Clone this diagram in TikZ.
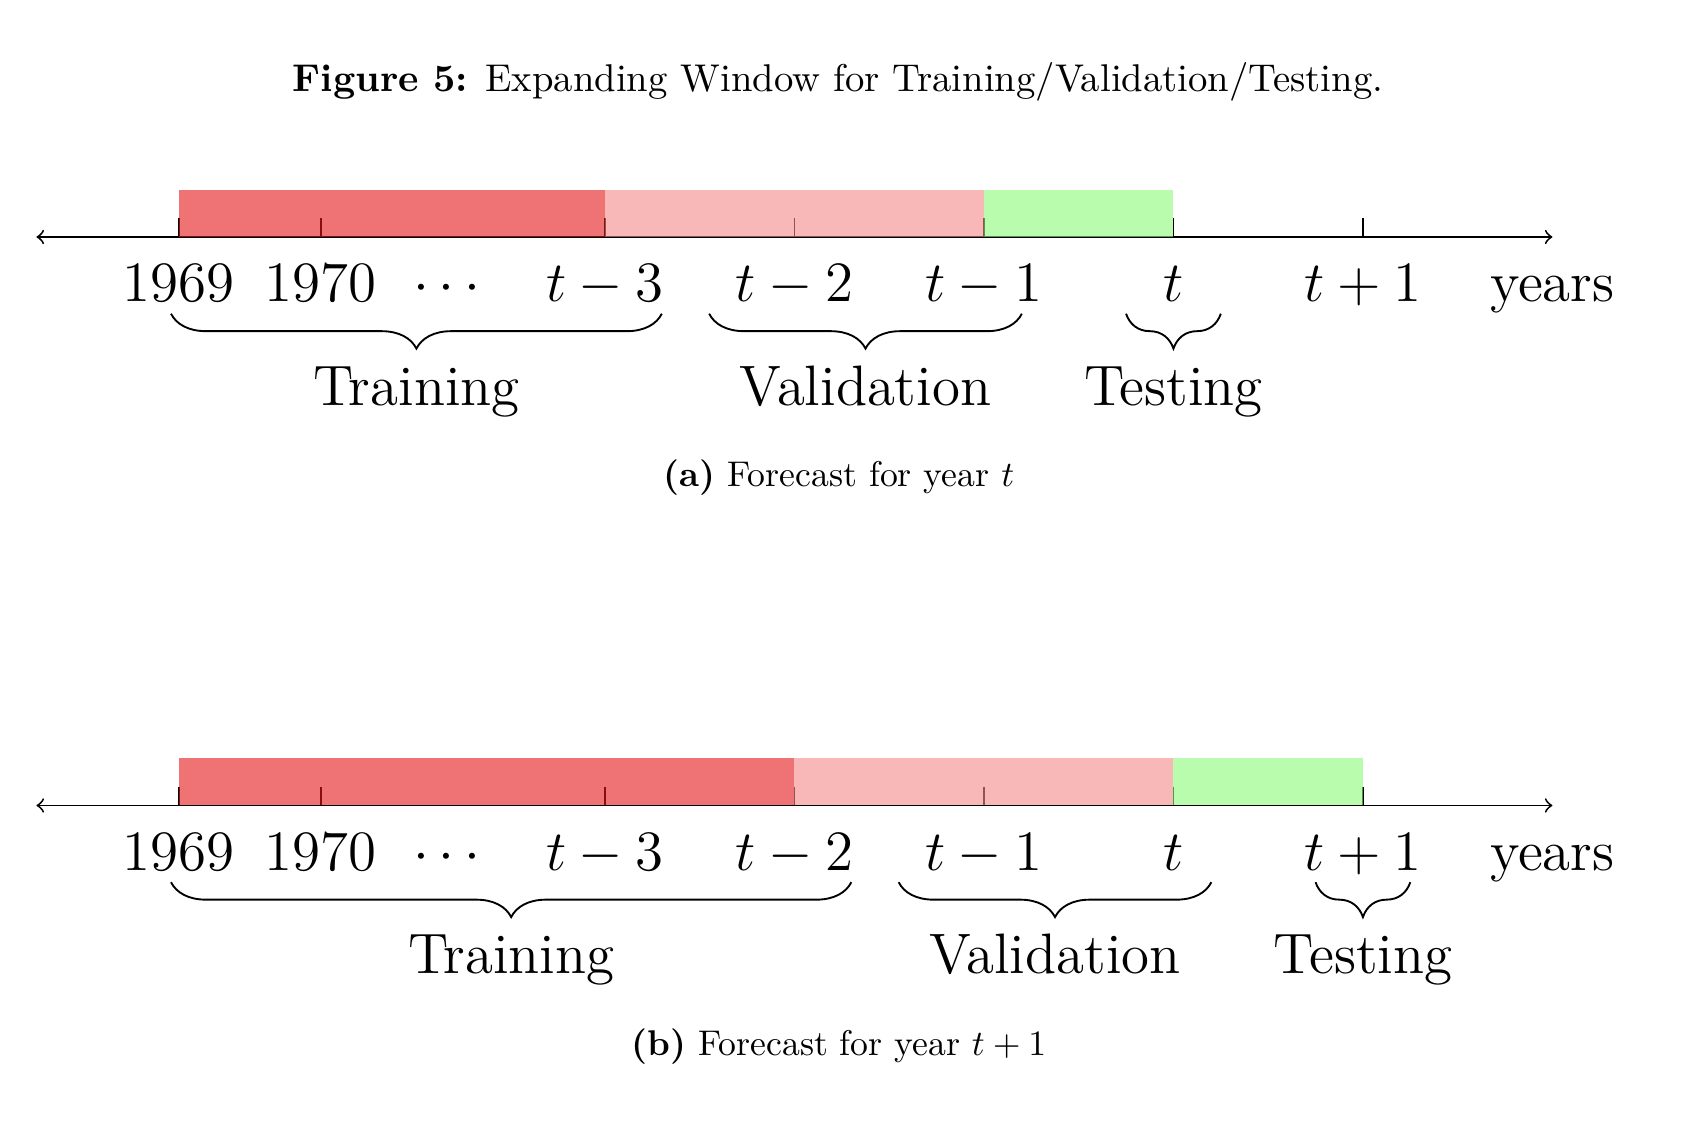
\documentclass[tikz,border=0pt]{standalone}
\usepackage{xcolor}
\usepackage{amsmath}
\usepackage{tikz}
\usetikzlibrary{positioning, calc, decorations.pathreplacing}

\definecolor{trainred}{RGB}{228,22,23}
\definecolor{valpink}{RGB}{243,137,137}
\definecolor{testgreen}{RGB}{140,250,120}

\begin{document}
\begin{tikzpicture}[x=1.776cm, y=1.776cm,
	yearlab/.style={font=\Large, scale=1.056, anchor=base},
	partlab/.style={font=\Large, scale=1.056, anchor=base},
	bar/.style={fill opacity=0.6},
	splitbrace/.style={decorate, decoration={brace, mirror, amplitude=9.3pt}, line width=0.5pt}]
	
	\useasboundingbox (-0.9425,-4.776) rectangle (8.071,1.2507);
	
	%//title on top
	\node [anchor=base, scale=1.032] (title) at (3.48, 0.768) {\textbf{Figure 5:} Expanding Window for Training/Validation/Testing.};
	
	%//one time line per forecast year, shifted down by 3
	\foreach \pn/\yy/\sh/\yr in {a/0/0/{$t$}, b/-3/1/{$t+1$}}
	{
		\begin{scope}[shift={(0,\yy)}]
		\draw [<->, line width=0.5pt] (-0.75,0) coordinate (left\pn) -- (7.25,0) coordinate (right\pn);
		
		\foreach \x in {0, 0.75, 2.25, 3.25, 4.25, 5.25, 6.25}
		\draw [line width=0.5pt] (\x,0) -- ++(0,0.1);
		
		\fill [trainred, bar] (0,0) rectangle (2.25+\sh,0.25);
		\fill [valpink, bar] (2.25+\sh,0) rectangle (4.25+\sh,0.25);
		\fill [testgreen, bar] (4.25+\sh,0) rectangle (5.25+\sh,0.25);
		
		\foreach \x/\t [count=\i] in {0/1969, 0.75/1970, 1.44/$\cdots$, 2.25/$t-3$, 3.25/$t-2$, 4.25/$t-1$, 5.25/$t$, 6.25/$t+1$, 7.25/years}
		\node [yearlab] (y\pn\i) at (\x,-0.341) {\t};
		
		%//braces under the labels
		\coordinate (trs\pn) at (-0.04,-0.405);
		\coordinate (tre\pn) at (2.55+\sh,-0.405);
		\coordinate (vas\pn) at (2.8+\sh,-0.405);
		\coordinate (vae\pn) at (4.45+\sh,-0.405);
		\coordinate (tes\pn) at (5.0+\sh,-0.405);
		\coordinate (tee\pn) at (5.5+\sh,-0.405);
		\draw [splitbrace] (trs\pn) -- (tre\pn);
		\draw [splitbrace] (vas\pn) -- (vae\pn);
		\draw [splitbrace] (tes\pn) -- (tee\pn);
		
		\node [partlab] (train\pn) at (1.255+\sh/2,-0.887) {Training};
		\node [partlab] (valid\pn) at (3.625+\sh,-0.887) {Validation};
		\node [partlab] (test\pn) at (5.25+\sh,-0.887) {Testing};
		
		\node [anchor=base, scale=0.952] (cap\pn) at (3.485,-1.319) {\textbf{(\pn)} Forecast for year \yr};
		\end{scope}
	}
	
\end{tikzpicture}
\end{document}
